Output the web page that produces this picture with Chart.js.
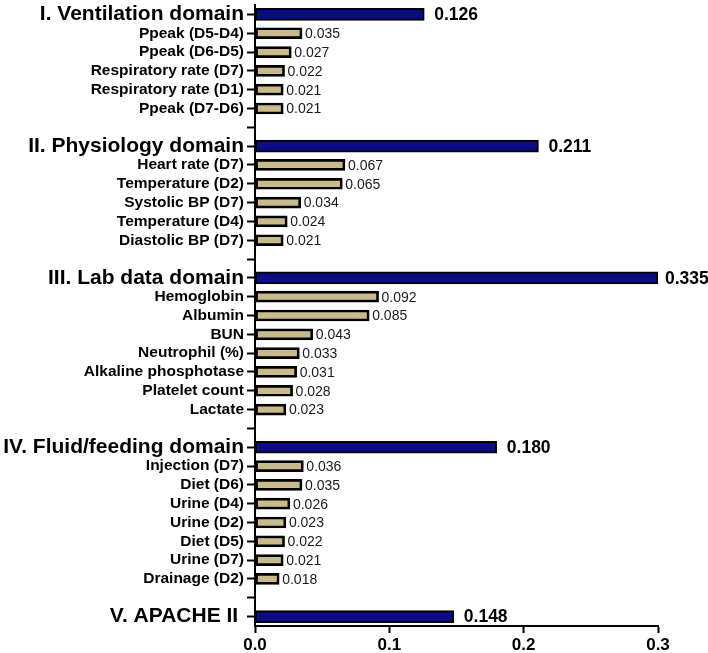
<!DOCTYPE html>
<html>
<head>
<meta charset="utf-8">
<script src="https://cdn.jsdelivr.net/npm/chart.js@4.4.1/dist/chart.umd.min.js"></script>
<style>
  html, body { margin: 0; padding: 0; background: #ffffff; }
  #wrap { width: 708px; height: 653px; position: relative; }
</style>
</head>
<body>
<div id="wrap"><canvas id="chart"></canvas></div>
<script>
// Domain weights and the top variables of each domain

const domainNames = [
    'I. Ventilation domain',
    'II. Physiology domain',
    'III. Lab data domain',
    'IV. Fluid/feeding domain',
    'V. APACHE II '
];
const domainValues = [0.126, 0.211, 0.335, 0.180, 0.148];

const ventilationItems = ['Ppeak (D5-D4)', 'Ppeak (D6-D5)', 'Respiratory rate (D7)', 'Respiratory rate (D1)', 'Ppeak (D7-D6)'];
const ventilationValues = [0.035, 0.027, 0.022, 0.021, 0.021];

const physiologyItems = ['Heart rate (D7)', 'Temperature (D2)', 'Systolic BP (D7)', 'Temperature (D4)', 'Diastolic BP (D7)'];
const physiologyValues = [0.067, 0.065, 0.034, 0.024, 0.021];

const labItems = ['Hemoglobin', 'Albumin', 'BUN', 'Neutrophil (%)', 'Alkaline phosphotase', 'Platelet count', 'Lactate'];
const labValues = [0.092, 0.085, 0.043, 0.033, 0.031, 0.028, 0.023];

const fluidItems = ['Injection (D7)', 'Diet (D6)', 'Urine (D4)', 'Urine (D2)', 'Diet (D5)', 'Urine (D7)', 'Drainage (D2)'];
const fluidValues = [0.036, 0.035, 0.026, 0.023, 0.022, 0.021, 0.018];

const xTicks = [0.0, 0.1, 0.2, 0.3];
const X_MAX = 0.3;

const NAVY = '#0b0b86';
const TAN = '#c9ba8c';
const FONT = "'Liberation Sans', Arial, Helvetica, sans-serif";

// --- Build rows (blank row between domains) ---

const itemGroups = [
    [ventilationItems, ventilationValues],
    [physiologyItems, physiologyValues],
    [labItems, labValues],
    [fluidItems, fluidValues],
    [[], []]
];

const labels = [];
const domainData = [];
const itemData = [];
const actualValues = [];   // value shown in the label (bar may be capped at axis max)
const domainRows = new Set();

domainNames.forEach((name, d) => {
    domainRows.add(labels.length);
    labels.push(name);
    domainData.push(Math.min(domainValues[d], X_MAX));
    itemData.push(null);
    actualValues.push(domainValues[d]);

    const [items, vals] = itemGroups[d];
    items.forEach((it, i) => {
        labels.push(it);
        domainData.push(null);
        itemData.push(vals[i]);
        actualValues.push(vals[i]);
    });

    if (d < domainNames.length - 1) {
        labels.push('');
        domainData.push(null);
        itemData.push(null);
        actualValues.push(null);
    }
});

// --- Value labels at bar ends ---

const valueLabels = {
    id: 'valueLabels',
    afterDatasetsDraw(chart) {
        const ctx = chart.ctx;
        ctx.save();
        ctx.textBaseline = 'middle';
        ctx.textAlign = 'left';
        chart.data.datasets.forEach((ds, di) => {
            const meta = chart.getDatasetMeta(di);
            meta.data.forEach((bar, i) => {
                if (ds.data[i] === null) return;
                const txt = actualValues[i].toFixed(3);
                if (di === 0) {
                    ctx.font = 'bold 17.5px ' + FONT;
                    ctx.fillStyle = '#000';
                    const gap = actualValues[i] > X_MAX ? 7 : 10;
                    ctx.fillText(txt, bar.x + gap, bar.y + 1);
                } else {
                    ctx.font = '14px ' + FONT;
                    ctx.fillStyle = '#1a1a1a';
                    ctx.fillText(txt, bar.x + 3, bar.y + 1);
                }
            });
        });
        ctx.restore();
    }
};

// --- Chart ---

const chart = new Chart(document.getElementById('chart'), {
    type: 'bar',
    data: {
        labels: labels,
        datasets: [
            {
                data: domainData,
                backgroundColor: NAVY,
                borderColor: '#000',
                borderWidth: 2,
                borderSkipped: false,
                barThickness: 12,
                grouped: false
            },
            {
                data: itemData,
                backgroundColor: TAN,
                borderColor: '#000',
                borderWidth: 2.7,
                borderSkipped: false,
                barThickness: 11,
                grouped: false
            }
        ]
    },
    options: {
        indexAxis: 'y',
        responsive: true,
        maintainAspectRatio: false,
        animation: false,
        layout: { padding: { top: 5, right: 50, bottom: 0, left: 0 } },
        scales: {
            x: {
                min: 0,
                max: X_MAX,
                afterBuildTicks: (scale) => {
                    scale.ticks = xTicks.map(v => ({ value: v }));
                },
                afterFit: (scale) => {
                    scale.height = 27;
                    scale.paddingLeft = 0;
                    scale.paddingRight = 0;
                },
                grid: {
                    drawOnChartArea: false,
                    tickLength: 7,
                    tickColor: '#000',
                    tickWidth: 2
                },
                border: { color: '#000', width: 2 },
                ticks: {
                    padding: 2,
                    color: '#000',
                    font: { family: FONT, size: 17, weight: 'bold' },
                    callback: (v) => Number(v).toFixed(1)
                }
            },
            y: {
                afterFit: (scale) => {
                    scale.width = 255;
                    scale.paddingTop = 0;
                    scale.paddingBottom = 0;
                },
                grid: {
                    offset: false,
                    drawOnChartArea: false,
                    tickLength: 8,
                    tickColor: '#000',
                    tickWidth: 2
                },
                border: { color: '#000', width: 2 },
                ticks: {
                    autoSkip: false,
                    padding: 3,
                    color: '#000',
                    font: (c) => domainRows.has(c.index)
                        ? { family: FONT, size: 21, weight: 'bold' }
                        : { family: FONT, size: 15.5, weight: 'bold' }
                }
            }
        },
        plugins: {
            legend: { display: false },
            tooltip: { enabled: false }
        }
    },
    plugins: [valueLabels]
});
</script>
</body>
</html>
